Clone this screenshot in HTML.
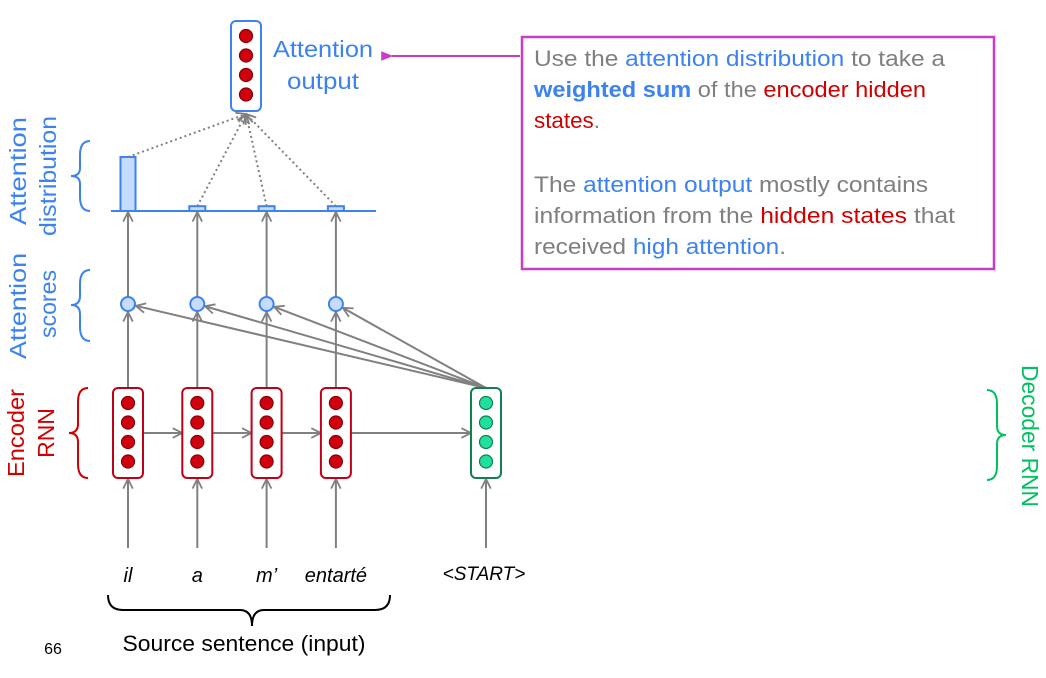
<!DOCTYPE html>
<html><head><meta charset="utf-8"><style>
html,body{margin:0;padding:0;background:#fff;}
svg{display:block;font-family:"Liberation Sans","DejaVu Sans",sans-serif;}
</style></head><body>
<svg id="chart" width="1046" height="678" viewBox="0 0 1046 678">
<defs>
<marker id="ah" viewBox="0 0 10 10" refX="9" refY="5" markerWidth="12" markerHeight="12" orient="auto-start-reverse" markerUnits="userSpaceOnUse">
<path d="M1,1 L9,5 L1,9" fill="none" stroke="#808080" stroke-width="1.5"/></marker>
<marker id="am" viewBox="0 0 10 10" refX="1" refY="5" markerWidth="12" markerHeight="12" orient="auto" markerUnits="userSpaceOnUse">
<path d="M10,1 L0,5 L10,9 Z" fill="#c83cc8"/></marker>
</defs>
<g id="left-labels" font-size="23">
<text transform="translate(26,171) rotate(-90)" text-anchor="middle" fill="#3c82f0" textLength="108" lengthAdjust="spacingAndGlyphs">Attention</text>
<text transform="translate(56,176) rotate(-90)" text-anchor="middle" fill="#3c82f0" textLength="120" lengthAdjust="spacingAndGlyphs">distribution</text>
<text transform="translate(26,306) rotate(-90)" text-anchor="middle" fill="#3c82f0" textLength="106" lengthAdjust="spacingAndGlyphs">Attention</text>
<text transform="translate(56,304) rotate(-90)" text-anchor="middle" fill="#3c82f0" textLength="68" lengthAdjust="spacingAndGlyphs">scores</text>
<text transform="translate(24,433) rotate(-90)" text-anchor="middle" fill="#d00000" textLength="88" lengthAdjust="spacingAndGlyphs">Encoder</text>
<text transform="translate(54,433) rotate(-90)" text-anchor="middle" fill="#d00000">RNN</text>
<path d="M90,141 Q80,141 80,155 L80,168 Q80,176 71,176 Q80,176 80,184 L80,197 Q80,211 90,211" fill="none" stroke="#3c82f0" stroke-width="2"/>
<path d="M90,270 Q80,270 80,284 L80,296 Q80,305 71,305 Q80,305 80,314 L80,327 Q80,341 90,341" fill="none" stroke="#3c82f0" stroke-width="2"/>
<path d="M88,388 Q78,388 78,402 L78,424 Q78,433 69,433 Q78,433 78,442 L78,464 Q78,478 88,478" fill="none" stroke="#d00000" stroke-width="2"/>
</g>
<g id="right-labels">
<path d="M987,390 Q997,390 997,404 L997,426 Q997,435 1006,435 Q997,435 997,444 L997,466 Q997,480 987,480" fill="none" stroke="#00c060" stroke-width="2"/>
<text transform="translate(1022,436) rotate(90)" text-anchor="middle" fill="#00c060" font-size="23" textLength="142" lengthAdjust="spacingAndGlyphs">Decoder RNN</text>
</g>
<g id="marks"></g>
<g id="callout">
<line x1="520" y1="56" x2="392" y2="56" stroke="#c83cc8" stroke-width="2" marker-end="url(#am)"/>
<rect x="522" y="37" width="472" height="232" fill="#fff" stroke="#c83cc8" stroke-width="2.5"/>
<g font-size="22" fill="#7f7f7f" lengthAdjust="spacingAndGlyphs">
<text x="534" y="66" textLength="411" lengthAdjust="spacingAndGlyphs">Use the <tspan fill="#3c82f0">attention distribution</tspan> to take a</text>
<text x="534" y="97" textLength="392" lengthAdjust="spacingAndGlyphs"><tspan fill="#3c82f0" font-weight="bold">weighted sum</tspan> of the <tspan fill="#d00000">encoder hidden</tspan></text>
<text x="534" y="128" textLength="66" lengthAdjust="spacingAndGlyphs"><tspan fill="#d00000">states</tspan>.</text>
<text x="534" y="192" textLength="394" lengthAdjust="spacingAndGlyphs">The <tspan fill="#3c82f0">attention output</tspan> mostly contains</text>
<text x="534" y="223" textLength="421" lengthAdjust="spacingAndGlyphs">information from the <tspan fill="#d00000">hidden states</tspan> that</text>
<text x="534" y="254" textLength="252" lengthAdjust="spacingAndGlyphs">received <tspan fill="#3c82f0">high attention</tspan>.</text>
</g>
</g>
<text x="323" y="57" text-anchor="middle" font-size="23" fill="#3c82f0" textLength="100" lengthAdjust="spacingAndGlyphs">Attention</text>
<text x="323" y="89" text-anchor="middle" font-size="23" fill="#3c82f0" textLength="72" lengthAdjust="spacingAndGlyphs">output</text>
<path d="M108,595 Q108,610 123,610 L240,610 Q252,610 252,626 Q252,610 264,610 L375,610 Q390,610 390,595" fill="none" stroke="#000" stroke-width="2"/>
<text x="244" y="651" text-anchor="middle" font-size="22" fill="#000" textLength="243" lengthAdjust="spacingAndGlyphs">Source sentence (input)</text>
<text x="53" y="654" text-anchor="middle" font-size="16" fill="#000">66</text>
</svg>
<script>
const words = ["il","a","m\u2019","entart\u00e9"];
const attention = [0.90, 0.08, 0.08, 0.08];
const decoderWord = "<START>";
const NS = "http://www.w3.org/2000/svg";
const g = document.getElementById("marks");
const colX = i => 128 + i * 69.3;
const decX = 486;
const barScale = v => v * 60;
const baseY = 211;
function mk(tag, attrs){const e=document.createElementNS(NS,tag);for(const k in attrs)e.setAttribute(k,attrs[k]);g.appendChild(e);return e;}
function cell(cx, stroke, fill, cstroke, y0){
  const r = mk("rect",{x:cx-15,y:y0,width:30,height:90,rx:5,fill:"#fff",stroke:stroke,"stroke-width":2});
  
  
  for(let k=0;k<4;k++){
    const c = mk("circle",{cx:cx,cy:y0+15+k*19.5,r:6.5,fill:fill,stroke:cstroke,"stroke-width":1.2});
    
    
  }
}
const bl = mk("line",{x1:111,y1:baseY,x2:376,y2:baseY,stroke:"#3c82f0","stroke-width":2});


cell(246, "#3c82f0", "#d00010", "#8a0000", 21);
words.forEach((w,i)=>{
  const x = colX(i);
  const a1 = mk("line",{x1:x,y1:548,x2:x,y2:479,stroke:"#808080","stroke-width":2,"marker-end":"url(#ah)"});
  
  
  const nx = i<words.length-1 ? colX(i+1)-15 : decX-15;
  const a2 = mk("line",{x1:x+15,y1:433,x2:nx,y2:433,stroke:"#808080","stroke-width":2,"marker-end":"url(#ah)"});
  
  
  const a3 = mk("line",{x1:x,y1:388,x2:x,y2:312,stroke:"#808080","stroke-width":2,"marker-end":"url(#ah)"});
  
  
  const a4 = mk("line",{x1:x,y1:297,x2:x,y2:212,stroke:"#808080","stroke-width":2,"marker-end":"url(#ah)"});
  
  
  const dx = decX - x, dy = 388 - 304, len = Math.hypot(dx,dy);
  const a5 = mk("line",{x1:decX,y1:388,x2:x+dx/len*8,y2:304+dy/len*8,stroke:"#808080","stroke-width":2,"marker-end":"url(#ah)"});
  
  
  const sc = mk("circle",{cx:x,cy:304,r:7,fill:"#c5dcff",stroke:"#3c82f0","stroke-width":2});
  
  
  const h = barScale(attention[i]);
  const bw = i===0 ? 15 : 16;
  const bar = mk("rect",{x:x-bw/2,y:baseY-h,width:bw,height:h,fill:"#c5dcff",stroke:"#3c82f0","stroke-width":2});
  
  
  const dl = mk("line",{x1:x,y1:baseY-h,x2:246,y2:114,stroke:"#808080","stroke-width":2,"stroke-dasharray":"2,3","marker-end":"url(#ah)"});
  
  
  cell(x, "#c00018", "#d00010", "#8a0000", 388);
  const t = mk("text",{x:x,y:582,"text-anchor":"middle","font-size":20,"font-style":"italic",fill:"#000"});
  t.textContent = w;
  
  
});
const da = mk("line",{x1:decX,y1:548,x2:decX,y2:479,stroke:"#808080","stroke-width":2,"marker-end":"url(#ah)"});


cell(decX, "#108050", "#20e0a0", "#108050", 388);
const dt = mk("text",{x:decX-2,y:580,"text-anchor":"middle","font-size":19,"font-style":"italic",fill:"#000"});
dt.textContent = decoderWord;


</script>
</body></html>
